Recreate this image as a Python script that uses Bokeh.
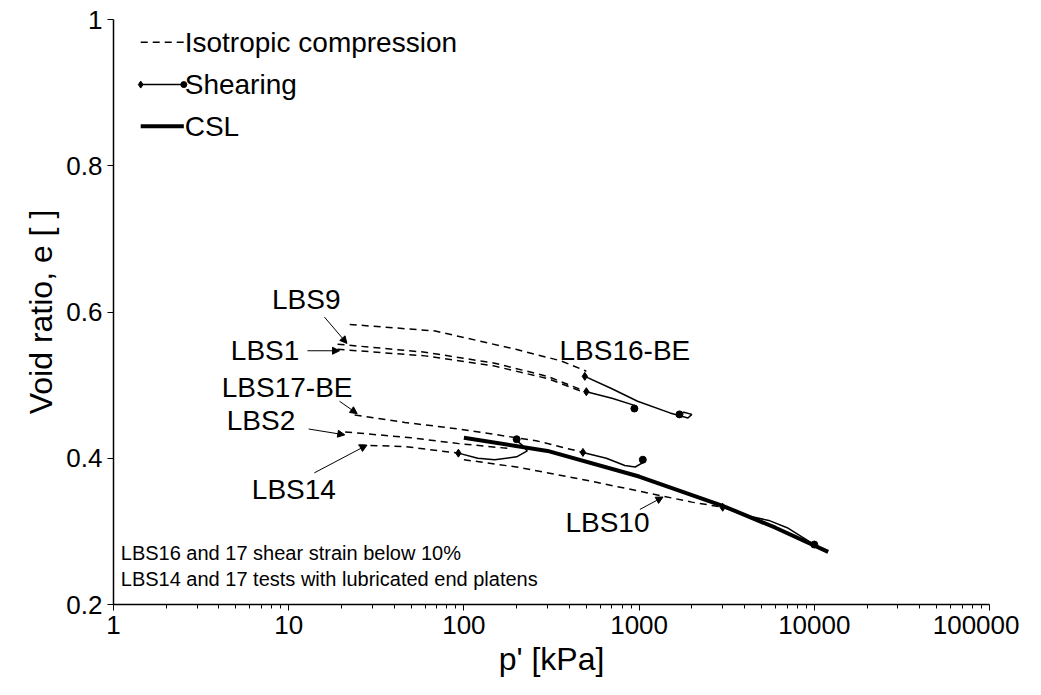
from bokeh.plotting import figure
from bokeh.models import Arrow, NormalHead, FixedTicker
from bokeh.core.properties import value
from bokeh.embed import file_html
from bokeh.resources import INLINE

# isotropic compression paths (p' kPa, e)
iso_a_p = [22.3, 68.7, 198, 360, 500]
iso_a_e = [0.583, 0.574, 0.549, 0.533, 0.519]
iso_b_p = [19, 60, 150, 300, 500]
iso_b_e = [0.556, 0.545, 0.530, 0.512, 0.491]
iso_b2_p = [19, 60, 150, 300, 500]
iso_b2_e = [0.549, 0.540, 0.526, 0.509, 0.489]
iso_c_p = [23.8, 46, 93.5, 258, 478]
iso_c_e = [0.459, 0.449, 0.440, 0.424, 0.408]
iso_d_p = [21, 50, 93.5, 188]
iso_d_e = [0.436, 0.428, 0.420, 0.413]
iso_e_p = [25, 46, 93]
iso_e_e = [0.418, 0.416, 0.407]
iso_f_p = [100, 200, 500, 1000, 2000, 3000]
iso_f_e = [0.398, 0.388, 0.370, 0.355, 0.340, 0.333]

# shearing paths
sh_a_p = [490, 700, 980, 1500, 1900, 2000, 1800, 1700]
sh_a_e = [0.512, 0.495, 0.478, 0.462, 0.455, 0.460, 0.463, 0.460]
sh_b_p = [500, 700, 950, 980, 940]
sh_b_e = [0.491, 0.482, 0.472, 0.468, 0.468]
sh_c_p = [478, 650, 829, 950, 1070, 1050]
sh_c_e = [0.408, 0.400, 0.390, 0.388, 0.395, 0.398]
sh_d_p = [93, 120, 150, 200, 230, 215, 205, 200]
sh_d_e = [0.407, 0.400, 0.398, 0.402, 0.410, 0.418, 0.422, 0.426]
sh_e_p = [3000, 4000, 5500, 7000, 10000]
sh_e_e = [0.333, 0.322, 0.315, 0.305, 0.282]

# critical state line
csl_p = [100, 300, 1000, 3000, 6000, 12000]
csl_e = [0.428, 0.410, 0.375, 0.335, 0.305, 0.272]

x_ticks = [1, 10, 100, 1000, 10000, 100000]
y_ticks = [0.2, 0.4, 0.6, 0.8, 1.0]

font = "Liberation Sans"
p = figure(x_axis_type="log", x_range=(1, 100000), y_range=(0.2, 1.0),
           frame_width=876, frame_height=585, min_border_left=113, min_border_top=19,
           min_border_right=30, min_border_bottom=80,
           output_backend="svg", toolbar_location=None)
p.outline_line_color = None
p.xgrid.visible = False
p.ygrid.visible = False
for ax in (p.xaxis, p.yaxis):
    ax.axis_line_color = "#000000"
    ax.axis_line_width = 1.5
    ax.major_tick_line_color = "#000000"
    ax.major_tick_in = 0
    ax.major_tick_out = 6
    ax.major_label_text_font = font
    ax.major_label_text_font_size = "26px"
    ax.major_label_text_color = "#000000"
    ax.axis_label_text_font = font
    ax.axis_label_text_font_size = "32px"
    ax.axis_label_text_font_style = "normal"
    ax.axis_label_text_color = "#000000"
    ax.axis_label_standoff = 4
p.yaxis.minor_tick_line_color = None
p.xaxis.minor_tick_line_color = "#000000"
p.xaxis.minor_tick_in = 0
p.xaxis.minor_tick_out = 4
minors = [m * d for d in [1, 10, 100, 1000, 10000] for m in range(2, 10)]
p.xaxis.ticker = FixedTicker(ticks=x_ticks, minor_ticks=minors)
p.xaxis.major_label_overrides = {t: str(t) for t in x_ticks}
p.yaxis.ticker = FixedTicker(ticks=y_ticks)
p.yaxis.major_label_overrides = {0.2: "0.2", 0.4: "0.4", 0.6: "0.6", 0.8: "0.8", 1.0: "1"}
p.xaxis.axis_label = "p' [kPa]"
p.yaxis.axis_label = "Void ratio, e [ ]"

for xs, ys in [(iso_a_p, iso_a_e), (iso_b_p, iso_b_e), (iso_b2_p, iso_b2_e), (iso_c_p, iso_c_e),
               (iso_d_p, iso_d_e), (iso_e_p, iso_e_e), (iso_f_p, iso_f_e)]:
    p.line(xs, ys, line_color="black", line_width=1.5, line_dash="7 5")

p.line(csl_p, csl_e, line_color="black", line_width=4)

for xs, ys in [(sh_a_p, sh_a_e), (sh_b_p, sh_b_e), (sh_c_p, sh_c_e), (sh_d_p, sh_d_e), (sh_e_p, sh_e_e)]:
    p.line(xs, ys, line_color="black", line_width=1.5)
    p.scatter([xs[0]], [ys[0]], marker="diamond", size=8, color="black")
    p.scatter([xs[-1]], [ys[-1]], marker="circle", size=7, color="black")

# legend (drawn manually)
p.line([1.43, 2.52], [0.969, 0.969], line_color="black", line_width=1.5, line_dash="7 5")
p.line([1.43, 2.52], [0.911, 0.911], line_color="black", line_width=1.5)
p.scatter([1.43], [0.911], marker="diamond", size=7, color="black")
p.scatter([2.52], [0.911], marker="circle", size=6, color="black")
p.line([1.43, 2.52], [0.854, 0.854], line_color="black", line_width=4)
leg_txt = ["Isotropic compression", "Shearing", "CSL"]
leg_y = [0.969, 0.911, 0.854]
p.text(x=[2.55] * 3, y=leg_y, text=leg_txt, text_font=value(font),
       text_font_size="28px", text_baseline="middle", text_align="left", text_color="black")

# test labels
lab_txt = ["LBS9", "LBS1", "LBS16-BE", "LBS17-BE", "LBS2", "LBS14", "LBS10"]
lab_x = [12.6, 11.5, 830, 9.8, 10.9, 10.7, 660]
lab_y = [0.617, 0.548, 0.548, 0.497, 0.452, 0.357, 0.312]
lab_align = ["center", "right", "center", "center", "right", "center", "center"]
p.text(x=lab_x, y=lab_y, text=lab_txt, text_font=value(font), text_font_size="28px",
       text_baseline="middle", text_align=lab_align, text_color="black")

arrows = [((16, 0.593), (21.5, 0.557)), ((12.8, 0.547), (19.5, 0.547)),
          ((19.5, 0.478), (24.6, 0.461)), ((13, 0.440), (20.9, 0.432)),
          ((14, 0.380), (28, 0.418)), ((1010, 0.330), (1370, 0.347))]
for (x0, y0), (x1, y1) in arrows:
    p.add_layout(Arrow(end=NormalHead(size=7, fill_color="black", line_color="black"),
                       x_start=x0, y_start=y0, x_end=x1, y_end=y1, line_width=1, line_color="black"))

notes = ["LBS16 and 17 shear strain below 10%", "LBS14 and 17 tests with lubricated end platens"]
p.text(x=[1.1, 1.1], y=[0.271, 0.235], text=notes, text_font=value(font), text_font_size="20px",
       text_baseline="middle", text_align="left", text_color="black")

open("out.html", "w").write(file_html(p, INLINE))
